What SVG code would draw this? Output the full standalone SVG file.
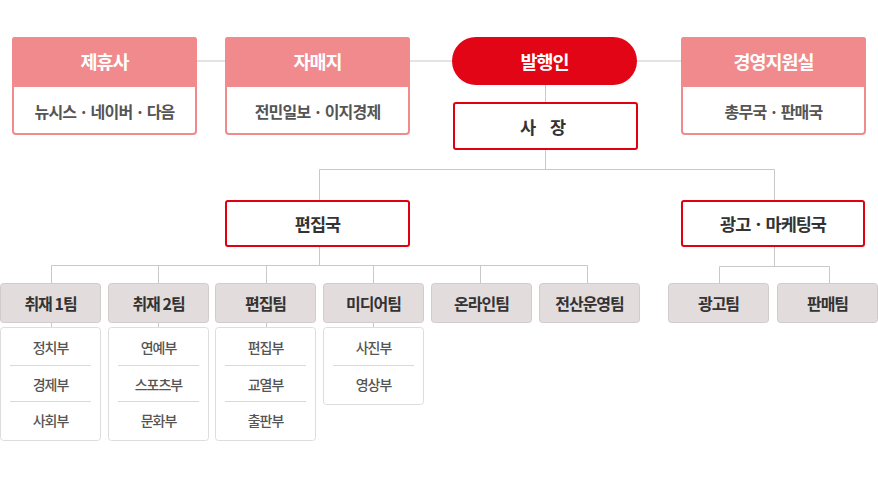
<svg xmlns="http://www.w3.org/2000/svg" width="878" height="484" viewBox="0 0 878 484">
<style>
text{font-family:"Noto Sans CJK KR","Noto Sans",sans-serif;text-anchor:middle;dominant-baseline:central}
.frame{fill:#fff;stroke:#f08a8c;stroke-width:2}
.hdr{fill:#f08a8c}
.htxt{fill:#fff;font-size:18.5px;font-weight:700;letter-spacing:-1px}
.btxt{fill:#555;font-size:16px;font-weight:700;letter-spacing:-0.8px}
.red{fill:#fff;stroke:#e0000f;stroke-width:2}
.rtxt{fill:#333;font-size:17.5px;font-weight:700;letter-spacing:-1px}
.team{fill:#e3dcdc;stroke:#d2cbcb;stroke-width:1}
.ttxt{fill:#333;font-size:16px;font-weight:700;letter-spacing:-1px}
.sub{fill:#fff;stroke:#dddddd;stroke-width:1}
.stxt{fill:#555;font-size:14px;font-weight:500;letter-spacing:-1px}
.div{stroke:#d9d9d9;stroke-width:1}
.con{fill:none;stroke:#c8c8c8;stroke-width:1}
</style>
<g id="connectors">
<path class="con" d="M197 61H225M409 61H452M637 61H681"/>
<path class="con" d="M545.5 85V102M545.5 149V169.5M319.5 169.5H774.5M319.5 169.5V200M774.5 169.5V200"/>
<path class="con" d="M319.5 247V265.5M51.5 265.5H587.5M51.5 265.5V283M158.5 265.5V283M266.5 265.5V283M373.5 265.5V283M480.5 265.5V283M587.5 265.5V283"/>
<path class="con" d="M774.5 247V266.5M719.5 266.5H829.5M719.5 266.5V283M829.5 266.5V283"/>
<path class="con" d="M51.5 322V327M158.5 322V327M266.5 322V327M373.5 322V327"/>
</g>
<g id="jehyusa">
<rect class="frame" x="13" y="38" width="183" height="96" rx="3"/>
<path class="hdr" d="M12 40a3 3 0 0 1 3-3H194a3 3 0 0 1 3 3V87H12Z"/>
<text class="htxt" x="104.5" y="61">제휴사</text>
<text class="btxt" x="104.5" y="111">뉴시스 · 네이버 · 다음</text>
</g>
<g id="jamaeji">
<rect class="frame" x="226" y="38" width="183" height="96" rx="3"/>
<path class="hdr" d="M225 40a3 3 0 0 1 3-3H407a3 3 0 0 1 3 3V87H225Z"/>
<text class="htxt" x="317.5" y="61">자매지</text>
<text class="btxt" x="317.5" y="111">전민일보 · 이지경제</text>
</g>
<g id="publisher">
<rect x="452" y="37" width="185" height="48" rx="24" fill="#e20516"/>
<text class="htxt" x="544.5" y="61">발행인</text>
</g>
<g id="president">
<rect class="red" x="454" y="103" width="183" height="46" rx="2"/>
<text class="rtxt" x="545.5" y="126" style="letter-spacing:5px">사 장</text>
</g>
<g id="management">
<rect class="frame" x="682" y="38" width="183" height="96" rx="3"/>
<path class="hdr" d="M681 40a3 3 0 0 1 3-3H863a3 3 0 0 1 3 3V87H681Z"/>
<text class="htxt" x="773.5" y="61">경영지원실</text>
<text class="btxt" x="773.5" y="111">총무국 · 판매국</text>
</g>
<g id="editorial">
<rect class="red" x="226" y="201" width="183" height="45" rx="2"/>
<text class="rtxt" x="317.5" y="223.5">편집국</text>
</g>
<g id="admarketing">
<rect class="red" x="682" y="201" width="182" height="45" rx="2"/>
<text class="rtxt" x="773" y="223.5">광고 · 마케팅국</text>
</g>
<g id="team1">
<rect class="team" x="0.5" y="283.5" width="100" height="39" rx="3"/>
<text class="ttxt" x="50.5" y="303">취재 1팀</text>
<rect class="sub" x="0.5" y="327.5" width="100" height="113" rx="3"/>
<path class="div" d="M10 365.5H91M10 401.5H91"/>
<text class="stxt" x="50.5" y="347">정치부</text>
<text class="stxt" x="50.5" y="383.5">경제부</text>
<text class="stxt" x="50.5" y="420">사회부</text>
</g>
<g id="team2">
<rect class="team" x="108.5" y="283.5" width="100" height="39" rx="3"/>
<text class="ttxt" x="158.5" y="303">취재 2팀</text>
<rect class="sub" x="108.5" y="327.5" width="100" height="113" rx="3"/>
<path class="div" d="M118 365.5H199M118 401.5H199"/>
<text class="stxt" x="158.5" y="347">연예부</text>
<text class="stxt" x="158.5" y="383.5">스포츠부</text>
<text class="stxt" x="158.5" y="420">문화부</text>
</g>
<g id="team3">
<rect class="team" x="215.5" y="283.5" width="100" height="39" rx="3"/>
<text class="ttxt" x="265.5" y="303">편집팀</text>
<rect class="sub" x="215.5" y="327.5" width="100" height="113" rx="3"/>
<path class="div" d="M225 365.5H306M225 401.5H306"/>
<text class="stxt" x="265.5" y="347">편집부</text>
<text class="stxt" x="265.5" y="383.5">교열부</text>
<text class="stxt" x="265.5" y="420">출판부</text>
</g>
<g id="team4">
<rect class="team" x="323.5" y="283.5" width="100" height="39" rx="3"/>
<text class="ttxt" x="373.5" y="303">미디어팀</text>
<rect class="sub" x="323.5" y="327.5" width="100" height="77" rx="3"/>
<path class="div" d="M333 365.5H414"/>
<text class="stxt" x="373.5" y="347">사진부</text>
<text class="stxt" x="373.5" y="383.5">영상부</text>
</g>
<g id="team5">
<rect class="team" x="431.5" y="283.5" width="100" height="39" rx="3"/>
<text class="ttxt" x="481.5" y="303">온라인팀</text>
</g>
<g id="team6">
<rect class="team" x="539.5" y="283.5" width="100" height="39" rx="3"/>
<text class="ttxt" x="589.5" y="303">전산운영팀</text>
</g>
<g id="team7">
<rect class="team" x="668.5" y="283.5" width="100" height="39" rx="3"/>
<text class="ttxt" x="718.5" y="303">광고팀</text>
</g>
<g id="team8">
<rect class="team" x="777.5" y="283.5" width="100" height="39" rx="3"/>
<text class="ttxt" x="827.5" y="303">판매팀</text>
</g>
</svg>
